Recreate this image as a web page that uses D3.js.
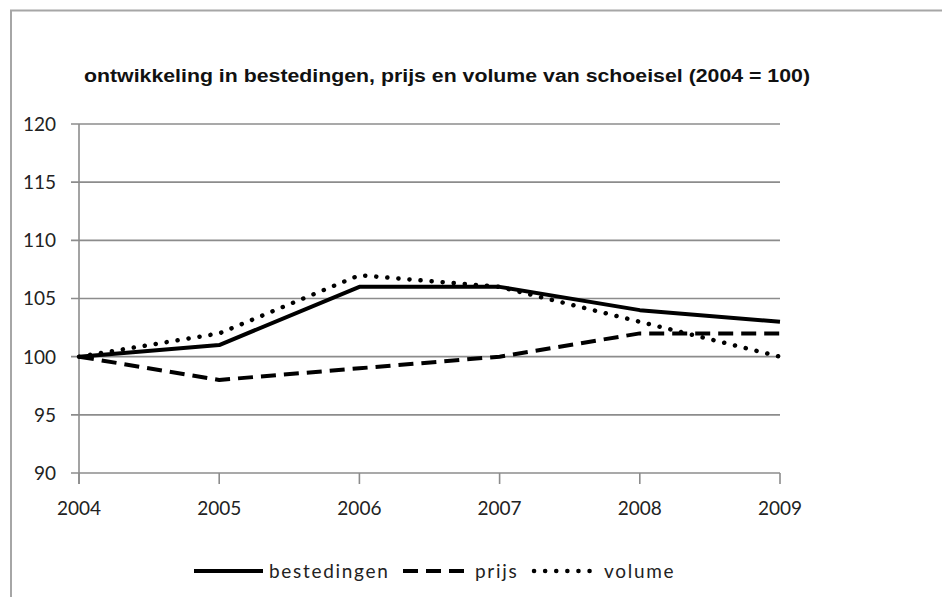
<!DOCTYPE html>
<html><head><meta charset="utf-8">
<script src="https://cdn.jsdelivr.net/npm/d3@7"></script>
<style>body{margin:0;background:#fff}svg{display:block}</style>
</head><body>
<svg id="c" width="942" height="597"></svg>
<script>
const years = ["2004","2005","2006","2007","2008","2009"];
const bestedingen = [100, 101, 106, 106, 104, 103];
const prijs = [100, 98, 99, 100, 102, 102];
const volume = [100, 102, 107, 106, 103, 100];
const yTicks = [90, 95, 100, 105, 110, 115, 120];
const title = "ontwikkeling in bestedingen, prijs en volume van schoeisel (2004 = 100)";
const seriesNames = ["bestedingen", "prijs", "volume"];

const svg = d3.select("#c");
svg.append("rect").attr("width",942).attr("height",597).attr("fill","#fff");
// outer border (top and left visible)
svg.append("path").attr("d","M11,600 L11,10.5 L945,10.5").attr("fill","none").attr("stroke","#a6a6a6").attr("stroke-width",2);

const x = d3.scalePoint().domain(years).range([79, 780]);
const y = d3.scaleLinear().domain([90, 120]).range([473, 124]);

svg.append("text").attr("x",84).attr("y",82).text(title)
  .attr("font-family","'Liberation Sans Narrow','Liberation Sans',Arial,sans-serif")
  .attr("font-size",18).attr("font-weight","bold").attr("fill","#111")
  .attr("textLength",726).attr("lengthAdjust","spacingAndGlyphs");

// gridlines
const g = svg.append("g");
g.selectAll("line.grid").data(yTicks).join("line")
  .attr("x1",71).attr("x2",780).attr("y1",d=>y(d)).attr("y2",d=>y(d))
  .attr("stroke","#8c8c8c").attr("stroke-width",1.6);
// y axis line
g.append("line").attr("x1",79).attr("x2",79).attr("y1",y(120)).attr("y2",484)
  .attr("stroke","#8c8c8c").attr("stroke-width",1.6);
// x ticks
g.selectAll("line.xt").data(years).join("line")
  .attr("x1",d=>x(d)).attr("x2",d=>x(d)).attr("y1",473).attr("y2",484)
  .attr("stroke","#8c8c8c").attr("stroke-width",1.6);

const font = "Lato, 'Open Sans', sans-serif";
g.selectAll("text.yl").data(yTicks).join("text")
  .attr("x",56).attr("y",d=>y(d)).attr("dy","0.36em").attr("text-anchor","end")
  .attr("font-family",font).attr("font-size",19).attr("fill","#222").text(d=>d);
g.selectAll("text.xl").data(years).join("text")
  .attr("x",d=>x(d)).attr("y",515).attr("text-anchor","middle")
  .attr("font-family",font).attr("font-size",19).attr("fill","#222").text(d=>d);

const styles = {
  bestedingen: {dash: null, cap: "butt"},
  prijs: {dash: "15,8", cap: "butt"},
  volume: {dash: "0.1,11", cap: "round"}
};
const data = {bestedingen, prijs, volume};
const line = d3.line().x((d,i)=>x(years[i])).y(d=>y(d));
seriesNames.forEach(n=>{
  svg.append("path").attr("d",line(data[n])).attr("fill","none").attr("stroke","#000")
    .attr("stroke-width",n==="volume"?4.5:4).attr("stroke-linejoin","round")
    .attr("stroke-linecap",styles[n].cap)
    .attr("stroke-dasharray",styles[n].dash);
});

// legend
const leg = [
  {n:"bestedingen", x1:194, x2:263, tx:269},
  {n:"prijs", x1:403, x2:466, tx:475},
  {n:"volume", x1:534, x2:594, tx:604}
];
leg.forEach(l=>{
  svg.append("line").attr("x1",l.x1).attr("x2",l.x2).attr("y1",571).attr("y2",571)
    .attr("stroke","#000").attr("stroke-width",l.n==="volume"?4.5:4)
    .attr("stroke-linecap",styles[l.n].cap).attr("stroke-dasharray",styles[l.n].dash);
  svg.append("text").attr("x",l.tx).attr("y",571).attr("dy","0.35em")
    .attr("font-family",font).attr("font-size",19).attr("fill","#222")
    .attr("letter-spacing",1.7).text(l.n);
});
</script>
</body></html>
